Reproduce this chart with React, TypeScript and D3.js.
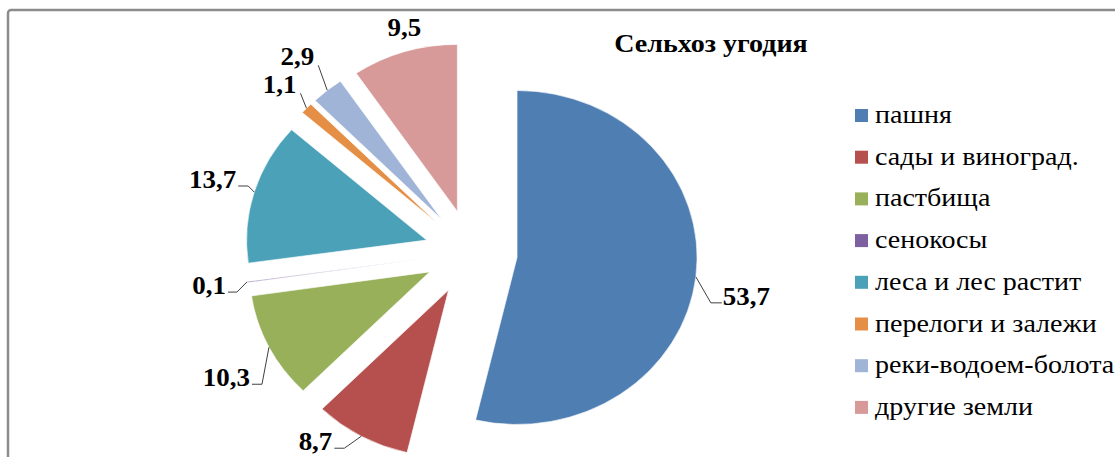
import React from "react";
import * as d3 from "d3";

const categories = [
  "пашня",
  "сады и виноград.",
  "пастбища",
  "сенокосы",
  "леса и лес растит",
  "перелоги и залежи",
  "реки-водоем-болота",
  "другие земли",
];
const values = [53.7, 8.7, 10.3, 0.1, 13.7, 1.1, 2.9, 9.5];
const colors = ["#4F7EB2", "#B5504E", "#98B05A", "#7D60A0", "#4BA2B8", "#E48F45", "#9FB4D7", "#D79A99"];
const title = "Сельхоз угодия";

// leader layout per slice: [dx, dy] of the elbow from the arc point, horizontal run (signed)
const leaders: [number, number, number][] = [
  [15, 26, 11],
  [-17, 12, -10],
  [-7, 37, -10],
  [-10, 10, -9],
  [-6, -6, -10],
  [-6, -15, 0],
  [-9, -25, 0],
  [0, -18, 0],
];

const width = 1115;
const height = 457;
const cx = 471;
const cy = 252.5;
const radius = 167;
const explode = 43;
const sx = 1.078; // the picture is a bit wider than tall
const serif = "'Liberation Serif'";

export default function App() {
  const pie = d3.pie<number>().sort(null).startAngle(0).endAngle(2 * Math.PI);
  const arcs = pie(values);
  const arc = d3.arc<d3.PieArcDatum<number>>().innerRadius(0).outerRadius(radius);
  const fmt = (v: number) => d3.format(".1f")(v).replace(".", ",");

  return (
    <svg
      width={width}
      height={height}
      style={{ position: "absolute", left: 0, top: 0, background: "#fff", fontFamily: serif }}
    >
      <rect x={8} y={10} width={1300} height={700} rx={3} fill="#fff" stroke="#8c8c8c" strokeWidth={2.5} />

      {arcs.map((a, i) => {
        const mid = (a.startAngle + a.endAngle) / 2;
        const ox = Math.sin(mid) * explode * sx;
        const oy = -Math.cos(mid) * explode;
        return (
          <g key={i} transform={`translate(${cx + ox},${cy + oy}) scale(${sx},1)`}>
            <path d={arc(a) ?? ""} fill={colors[i]} stroke="#fff" strokeWidth={0.6} />
          </g>
        );
      })}

      {arcs.map((a, i) => {
        const mid = (a.startAngle + a.endAngle) / 2;
        const px = cx + Math.sin(mid) * (explode + radius) * sx;
        const py = cy - Math.cos(mid) * (explode + radius);
        const [dx, dy, run] = leaders[i];
        const ex = px + dx;
        const ey = py + dy;
        const tx = ex + run;
        const hasLine = !(dx === 0 && run === 0);
        let anchor = "middle";
        let textX = tx;
        let textY = ey + 2;
        if (run > 0) {
          anchor = "start";
          textX = tx + 1;
        } else if (run < 0) {
          anchor = "end";
          textX = tx - 2;
        } else if (dx !== 0) {
          anchor = "end";
          textX = ex - 4;
          textY = ey;
        }
        return (
          <g key={i}>
            {hasLine && (
              <polyline
                points={`${px},${py} ${ex},${ey} ${tx},${ey}`}
                fill="none"
                stroke="#404040"
                strokeWidth={1}
              />
            )}
            <text
              transform={`translate(${textX},${textY}) scale(${sx},1)`}
              textAnchor={anchor}
              fontSize={25}
              fontWeight="bold"
              fill="#000"
              style={{ fontFamily: serif }}
            >
              {fmt(values[i])}
            </text>
          </g>
        );
      })}

      <text
        transform={`translate(711,52) scale(${sx},1)`}
        textAnchor="middle"
        fontSize={26}
        fontWeight="bold"
        style={{ fontFamily: serif }}
      >
        {title}
      </text>

      {categories.map((c, i) => {
        const y = 115.5 + i * 41.7;
        return (
          <g key={c}>
            <rect x={855} y={y - 6.5} width={13} height={13} fill={colors[i]} />
            <text
              transform={`translate(875,${y + 7.5}) scale(${sx},1)`}
              fontSize={26}
              fill="#000"
              style={{ fontFamily: serif }}
            >
              {c}
            </text>
          </g>
        );
      })}
    </svg>
  );
}
